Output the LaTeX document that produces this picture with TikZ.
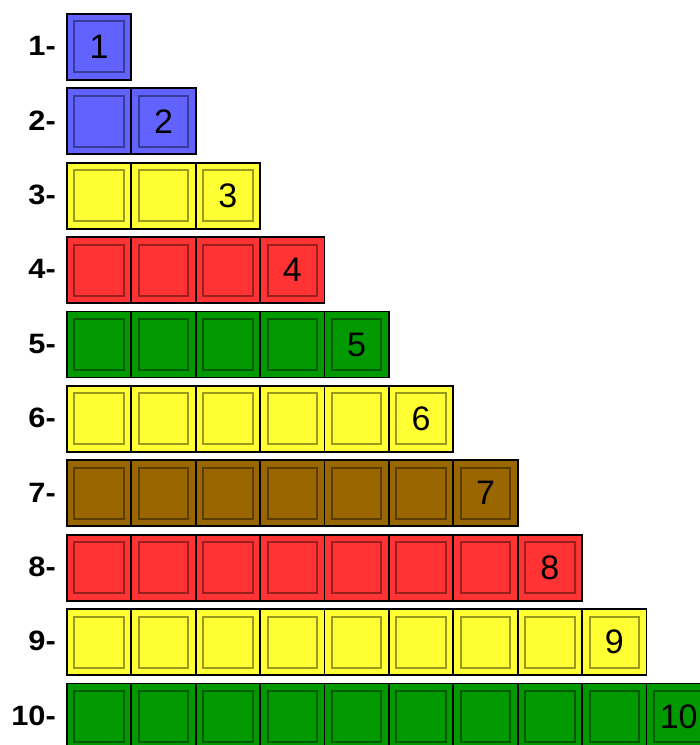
\documentclass[tikz,border=0pt]{standalone}
\usepackage{fontspec}
\setmainfont{Liberation Sans}
\definecolor{cblue}{HTML}{6262FF}
\definecolor{cyellow}{HTML}{FFFF33}
\definecolor{cred}{HTML}{FF3333}
\definecolor{cgreen}{HTML}{009900}
\definecolor{cbrown}{HTML}{996600}
\tikzset{
  sq/.style={draw=black, line width=1.8pt, minimum width=64.4pt, minimum height=66pt, inner sep=0pt, anchor=north west,
    font=\fontsize{34}{34}\selectfont,
    path picture={\draw[line width=2pt, draw=black, draw opacity=0.4]
      ([shift={(7.5pt,7.5pt)}]path picture bounding box.south west) rectangle
      ([shift={(-7.5pt,-7.5pt)}]path picture bounding box.north east);}},
  rowlabel/.style={anchor=east, inner sep=0pt, font=\bfseries\fontsize{28}{28}\selectfont, xscale=1.1}
}
\begin{document}
\begin{tikzpicture}[x=1pt,y=1pt]
\useasboundingbox (0,0) rectangle (700,745);
\foreach \r/\col in {1/cblue,2/cblue,3/cyellow,4/cred,5/cgreen,6/cyellow,7/cbrown,8/cred,9/cyellow,10/cgreen}{
  \pgfmathsetmacro{\top}{745-13-74.4*(\r-1)}
  \node[rowlabel] (l\r) at (56,\top-33) {\r-};
  \foreach \c in {1,...,\r}{
    \pgfmathsetmacro{\left}{66+64.4*(\c-1)}
    \ifnum\c=\r
      \node[sq, fill=\col] (s\r-\c) at (\left,\top) {\r};
    \else
      \node[sq, fill=\col] (s\r-\c) at (\left,\top) {};
    \fi
  }
}
\end{tikzpicture}
\end{document}
